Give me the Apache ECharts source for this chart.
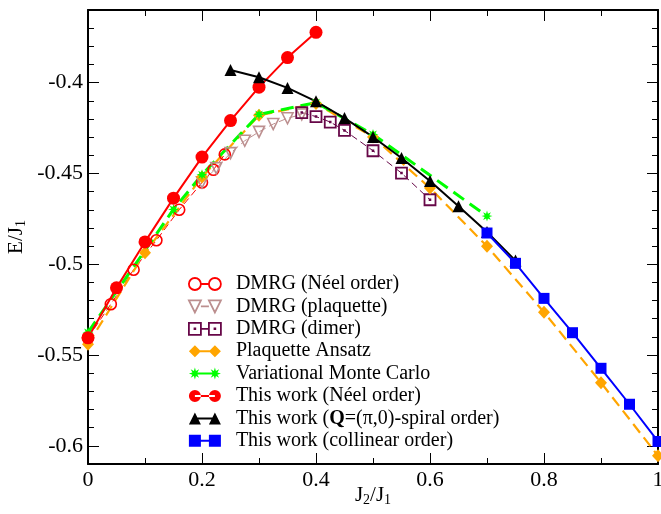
<!DOCTYPE html>
<html>
<head>
<meta charset="utf-8">
<script src="https://cdn.jsdelivr.net/npm/echarts@6/dist/echarts.min.js"></script>
<style>
  html, body { margin: 0; padding: 0; background: #fff; }
  #chart { width: 661px; height: 514px; }
</style>
</head>
<body>
<div id="chart"></div>
<script>
// Ground-state energy per site E/J1 versus J2/J1

// DMRG, Neel order
const dmrgNeelX = [0, 0.04, 0.08, 0.12, 0.16, 0.2, 0.22, 0.24];
const dmrgNeelE = [-0.5405, -0.522, -0.503, -0.4868, -0.470, -0.455, -0.448, -0.4395];

// DMRG, plaquette state
const dmrgPlaqX = [0.2, 0.225, 0.25, 0.275, 0.3, 0.325, 0.35, 0.375];
const dmrgPlaqE = [-0.4549, -0.4471, -0.4388, -0.4320, -0.4271, -0.4228, -0.4196, -0.4175];

// DMRG, dimer state
const dmrgDimerX = [0.375, 0.4, 0.425, 0.45, 0.5, 0.55, 0.6];
const dmrgDimerE = [-0.4165, -0.4187, -0.4217, -0.4263, -0.4375, -0.4498, -0.4645];

// Plaquette ansatz
const plaqAnsatzX = [0, 0.1, 0.2, 0.3, 0.4, 0.5, 0.6, 0.7, 0.8, 0.9, 1.0];
const plaqAnsatzE = [-0.544, -0.4937, -0.452, -0.418, -0.4115, -0.430, -0.458, -0.4901, -0.5264, -0.5652, -0.6055];

// Variational Monte Carlo
const vmcX = [0, 0.15, 0.2, 0.3, 0.4, 0.5, 0.7];
const vmcE = [-0.5375, -0.4698, -0.4507, -0.4175, -0.4110, -0.4285, -0.4735];

// This work: Neel order
const neelX = [0, 0.05, 0.1, 0.15, 0.2, 0.25, 0.3, 0.35, 0.4];
const neelE = [-0.5405, -0.513, -0.4877, -0.4636, -0.441, -0.4209, -0.4025, -0.3862, -0.3723];

// This work: Q=(pi,0) spiral order
const spiralX = [0.25, 0.3, 0.35, 0.4, 0.45, 0.5, 0.55, 0.6, 0.65, 0.7, 0.75];
const spiralE = [-0.393, -0.397, -0.4029, -0.4103, -0.4195, -0.4299, -0.4415, -0.4542, -0.4681, -0.4822, -0.498];

// This work: collinear order
const collinearX = [0.7, 0.75, 0.8, 0.85, 0.9, 0.95, 1.0];
const collinearE = [-0.4828, -0.4995, -0.5188, -0.5377, -0.5573, -0.5771, -0.5976];

// Axis ticks
const xMajorTicks = [0, 0.2, 0.4, 0.6, 0.8, 1];
const xMinorTicks = [0.1, 0.3, 0.5, 0.7, 0.9];
const yMajorTicks = [-0.6, -0.55, -0.5, -0.45, -0.4];
const yMinorTicks = [-0.61, -0.59, -0.58, -0.57, -0.56, -0.54, -0.53, -0.52, -0.51,
                     -0.49, -0.48, -0.47, -0.46, -0.44, -0.43, -0.42, -0.41,
                     -0.39, -0.38, -0.37];

const pairs = (xs, ys) => xs.map((x, i) => [x, ys[i]]);

const FONT = 'Liberation Serif';

// ---- marker shapes ----
function circleSub(cx, cy, r) {
  return `M${cx - r},${cy} A${r},${r} 0 1,0 ${cx + r},${cy} A${r},${r} 0 1,0 ${cx - r},${cy} Z `;
}
function squareSub(cx, cy, r) {
  return `M${cx - r},${cy - r} L${cx + r},${cy - r} L${cx + r},${cy + r} L${cx - r},${cy + r} Z `;
}
function dotSquareSub(cx, cy, r) {
  const d = 0.4;
  return squareSub(cx, cy, r) + `M${cx - d},${cy - d} L${cx + d},${cy - d} L${cx + d},${cy + d} L${cx - d},${cy + d} Z `;
}
function triUpSub(cx, cy, r) {
  return `M${cx},${cy - r} L${cx + r},${cy + r} L${cx - r},${cy + r} Z `;
}
function triDownSub(cx, cy, r) {
  return `M${cx - r},${cy - r} L${cx + r},${cy - r} L${cx},${cy + r} Z `;
}
function diamondSub(cx, cy, r) {
  return `M${cx},${cy - r} L${cx + r},${cy} L${cx},${cy + r} L${cx - r},${cy} Z `;
}
function starSub(cx, cy, r) {
  let p = '';
  for (let i = 0; i < 16; i++) {
    const rr = (i % 2) ? r * 0.45 : r;
    const a = Math.PI * i / 8 - Math.PI / 2;
    p += (i ? 'L' : 'M') + (cx + rr * Math.cos(a)).toFixed(2) + ',' + (cy + rr * Math.sin(a)).toFixed(2) + ' ';
  }
  return p + 'Z ';
}

const starSymbol = 'path://' + starSub(10, 10, 10);
const dotSquareSymbol = 'path://' + dotSquareSub(6, 6, 6);

// legend icon: marker - line - marker (32 x 12 box)
function pairIcon(sub, filled) {
  const link = filled ? 'M6,5 L26,5 L26,7 L6,7 Z ' : 'M12,6 L20,6 ';
  return 'path://' + sub(6, 6, 6) + link + sub(26, 6, 6);
}

const tickLabel = { fontFamily: FONT, fontSize: 22, color: '#000' };
const nameRich = {
  a: { fontFamily: FONT, fontSize: 21, color: '#000' },
  s: { fontFamily: FONT, fontSize: 14, color: '#000', padding: [10, 0, 0, 0] }
};

const option = {
  animation: false,
  backgroundColor: '#fff',
  grid: { left: 88, right: 3, top: 10, bottom: 50, containLabel: false, outerBoundsMode: 'none' },
  xAxis: [
    {
      type: 'value', min: 0, max: 1, position: 'bottom',
      axisLine: { show: true, onZero: false, lineStyle: { color: '#000', width: 2 } },
      axisTick: { show: true, inside: true, length: 11, customValues: xMajorTicks, lineStyle: { color: '#000', width: 1 } },
      axisLabel: Object.assign({ show: true, customValues: xMajorTicks, margin: 5 }, tickLabel),
      splitLine: { show: false },
      name: '{a|J}{s|2}{a|/J}{s|1}', nameLocation: 'middle', nameGap: 19, nameMoveOverlap: false,
      nameTextStyle: { color: '#000', rich: nameRich }
    },
    {
      type: 'value', min: 0, max: 1, position: 'bottom',
      axisLine: { show: false, onZero: false },
      axisTick: { show: true, inside: true, length: 6, customValues: xMinorTicks, lineStyle: { color: '#000', width: 1 } },
      axisLabel: { show: false }, splitLine: { show: false }
    },
    {
      type: 'value', min: 0, max: 1, position: 'top',
      axisLine: { show: true, onZero: false, lineStyle: { color: '#000', width: 2 } },
      axisTick: { show: true, inside: true, length: 11, customValues: xMajorTicks, lineStyle: { color: '#000', width: 1 } },
      axisLabel: { show: false }, splitLine: { show: false }
    },
    {
      type: 'value', min: 0, max: 1, position: 'top',
      axisLine: { show: false, onZero: false },
      axisTick: { show: true, inside: true, length: 6, customValues: xMinorTicks, lineStyle: { color: '#000', width: 1 } },
      axisLabel: { show: false }, splitLine: { show: false }
    }
  ],
  yAxis: [
    {
      type: 'value', min: -0.61, max: -0.36, position: 'left',
      axisLine: { show: true, onZero: false, lineStyle: { color: '#000', width: 2 } },
      axisTick: { show: true, inside: true, length: 11, customValues: yMajorTicks, lineStyle: { color: '#000', width: 1 } },
      axisLabel: Object.assign({ show: true, customValues: yMajorTicks, margin: 5 }, tickLabel),
      splitLine: { show: false },
      name: '{a|E/J}{s|1}', nameLocation: 'middle', nameGap: 60, nameRotate: 90, nameMoveOverlap: false,
      nameTextStyle: { color: '#000', rich: nameRich }
    },
    {
      type: 'value', min: -0.61, max: -0.36, position: 'left',
      axisLine: { show: false, onZero: false },
      axisTick: { show: true, inside: true, length: 6, customValues: yMinorTicks, lineStyle: { color: '#000', width: 1 } },
      axisLabel: { show: false }, splitLine: { show: false }
    },
    {
      type: 'value', min: -0.61, max: -0.36, position: 'right',
      axisLine: { show: true, onZero: false, lineStyle: { color: '#000', width: 2 } },
      axisTick: { show: true, inside: true, length: 11, customValues: yMajorTicks, lineStyle: { color: '#000', width: 1 } },
      axisLabel: { show: false }, splitLine: { show: false }
    },
    {
      type: 'value', min: -0.61, max: -0.36, position: 'right',
      axisLine: { show: false, onZero: false },
      axisTick: { show: true, inside: true, length: 6, customValues: yMinorTicks, lineStyle: { color: '#000', width: 1 } },
      axisLabel: { show: false }, splitLine: { show: false }
    }
  ],
  legend: {
    orient: 'vertical', left: 188, top: 273, padding: 0,
    itemWidth: 32, itemHeight: 12, itemGap: 0.4,
    textStyle: {
      fontFamily: FONT, fontSize: 20, lineHeight: 22, color: '#000', padding: [0, 0, 0, 10],
      rich: { b: { fontFamily: FONT, fontSize: 20, lineHeight: 22, fontWeight: 'bold', color: '#000' } }
    },
    formatter: name => name.replace('(Q=', '({b|Q}='),
    data: [
      { name: 'DMRG (Néel order)', icon: pairIcon(circleSub, false),
        itemStyle: { color: 'rgba(255,255,255,0)', borderColor: '#ff0000', borderWidth: 1.8 } },
      { name: 'DMRG (plaquette)', icon: pairIcon(triDownSub, false),
        itemStyle: { color: 'rgba(255,255,255,0)', borderColor: '#bc8f8f', borderWidth: 1.8 } },
      { name: 'DMRG (dimer)', icon: pairIcon(dotSquareSub, false),
        itemStyle: { color: 'rgba(255,255,255,0)', borderColor: '#670748', borderWidth: 1.8 } },
      { name: 'Plaquette Ansatz', icon: pairIcon(diamondSub, true),
        itemStyle: { color: '#ffa500', borderWidth: 0 } },
      { name: 'Variational Monte Carlo', icon: pairIcon(starSub, true),
        itemStyle: { color: '#00ff00', borderWidth: 0 } },
      { name: 'This work (Néel order)', icon: pairIcon(circleSub, true),
        itemStyle: { color: '#ff0000', borderWidth: 0 } },
      { name: 'This work (Q=(π,0)-spiral order)', icon: pairIcon(triUpSub, true),
        itemStyle: { color: '#000000', borderWidth: 0 } },
      { name: 'This work (collinear order)', icon: pairIcon(squareSub, true),
        itemStyle: { color: '#0000ff', borderWidth: 0 } }
    ]
  },
  series: [
    {
      name: 'DMRG (Néel order)', type: 'line', data: pairs(dmrgNeelX, dmrgNeelE),
      symbol: 'circle', symbolSize: 11,
      itemStyle: { color: 'rgba(255,255,255,0)', borderColor: '#ff0000', borderWidth: 1.6 },
      lineStyle: { color: '#ff0000', width: 1, type: [7, 4] }
    },
    {
      name: 'DMRG (plaquette)', type: 'line', data: pairs(dmrgPlaqX, dmrgPlaqE),
      symbol: 'triangle', symbolRotate: 180, symbolSize: 11,
      itemStyle: { color: 'rgba(255,255,255,0)', borderColor: '#bc8f8f', borderWidth: 1.6 },
      lineStyle: { color: '#bc8f8f', width: 1, type: [7, 4] }
    },
    {
      name: 'DMRG (dimer)', type: 'line', data: pairs(dmrgDimerX, dmrgDimerE),
      symbol: dotSquareSymbol, symbolSize: 11,
      itemStyle: { color: 'rgba(255,255,255,0)', borderColor: '#670748', borderWidth: 1.8 },
      lineStyle: { color: '#670748', width: 1, type: [7, 4] }
    },
    {
      name: 'Plaquette Ansatz', type: 'line', data: pairs(plaqAnsatzX, plaqAnsatzE),
      symbol: 'diamond', symbolSize: [12, 13],
      itemStyle: { color: '#ffa500' },
      lineStyle: { color: '#ffa500', width: 2.2, type: [11, 6] }
    },
    {
      name: 'Variational Monte Carlo', type: 'line', data: pairs(vmcX, vmcE),
      symbol: starSymbol, symbolSize: 11,
      itemStyle: { color: '#00ff00' },
      lineStyle: { color: '#00ff00', width: 3, type: [13, 7] }
    },
    {
      name: 'This work (Néel order)', type: 'line', data: pairs(neelX, neelE),
      symbol: 'circle', symbolSize: 13,
      itemStyle: { color: '#ff0000' },
      lineStyle: { color: '#ff0000', width: 2 }
    },
    {
      name: 'This work (Q=(π,0)-spiral order)', type: 'line', data: pairs(spiralX, spiralE),
      symbol: 'triangle', symbolSize: 12,
      itemStyle: { color: '#000000' },
      lineStyle: { color: '#000000', width: 2 }
    },
    {
      name: 'This work (collinear order)', type: 'line', data: pairs(collinearX, collinearE),
      symbol: 'rect', symbolSize: 11,
      itemStyle: { color: '#0000ff' },
      lineStyle: { color: '#0000ff', width: 2 }
    }
  ]
};

const chart = echarts.init(document.getElementById('chart'), null, { renderer: 'canvas' });
chart.setOption(option);
</script>
</body>
</html>
